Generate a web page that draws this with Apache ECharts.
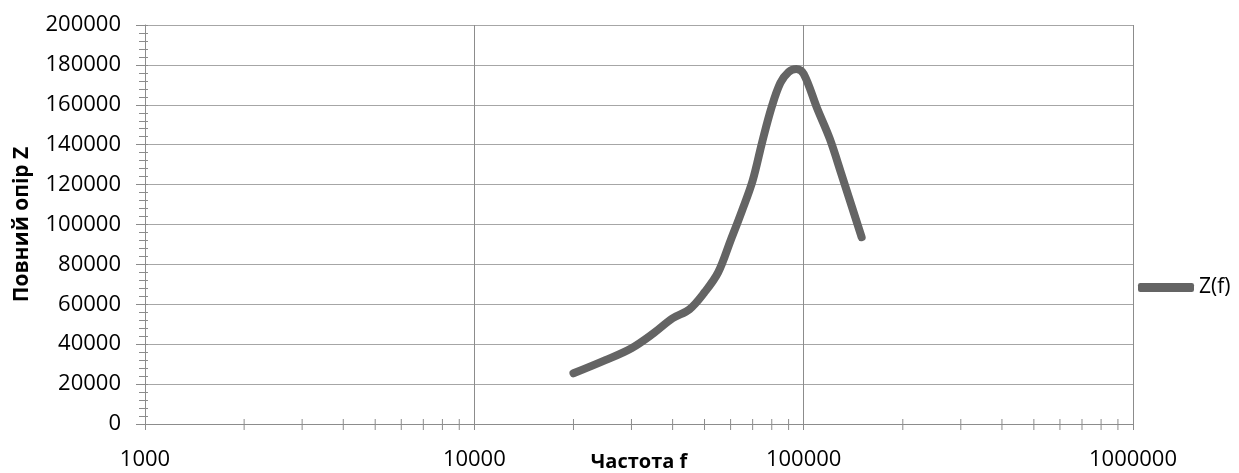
<!DOCTYPE html>
<html>
<head>
<meta charset="utf-8">
<script src="https://cdn.jsdelivr.net/npm/echarts@6/dist/echarts.min.js"></script>
<style>html,body{margin:0;padding:0;background:#fff}#c{width:1239px;height:473px}</style>
</head>
<body>
<div id="c"></div>
<script>
const frequencies = [20000, 25000, 30000, 35000, 40000, 45000, 50000, 55000, 60000, 65000, 70000, 75000, 80000, 85000, 90000, 95000, 100000, 110000, 120000, 130000, 150000];
const impedance = [25400, 32000, 38000, 45500, 53000, 57500, 66000, 76000, 92000, 107000, 122000, 142000, 159000, 171000, 176500, 178000, 175500, 158000, 143000, 125600, 93600];
const seriesName = 'Z(f)';
const xAxisTitle = 'Частота f';
const yAxisTitle = 'Повний опір Z';
const xMinorTicks = [2000,3000,4000,5000,6000,7000,8000,9000,20000,30000,40000,50000,60000,70000,80000,90000,200000,300000,400000,500000,600000,700000,800000,900000];

const font = 'Open Sans';
const chart = echarts.init(document.getElementById('c'));
const yBase = {
  type: 'value', min: 0, max: 200000, interval: 20000, gridIndex: 0
};
chart.setOption({
  animation: false,
  grid: { left: 145, right: 106, top: 25, bottom: 49, containLabel: false, outerBoundsMode: 'none' },
  legend: {
    data: [seriesName], left: 1133, top: 272, icon: 'roundRect',
    itemWidth: 56, itemHeight: 9, itemGap: 4,
    textStyle: { fontFamily: font, fontSize: 21, color: '#000' }
  },
  xAxis: [{
    type: 'log', logBase: 10, min: 1000, max: 1000000,
    name: xAxisTitle, nameLocation: 'middle', nameGap: 28, nameMoveOverlap: false,
    nameTextStyle: { fontFamily: font, fontSize: 20, fontWeight: 'bold', color: '#000', verticalAlign: 'top' },
    axisLine: { lineStyle: { color: '#8c8c8c', width: 1 } },
    axisTick: { show: true, length: 6, lineStyle: { color: '#8c8c8c' } },
    axisLabel: { fontFamily: font, fontSize: 22, color: '#000', margin: 25, formatter: v => String(Math.round(v)) },
    splitLine: { show: true, lineStyle: { color: '#8c8c8c', width: 1 } }
  }],
  yAxis: [Object.assign({}, yBase, {
    name: yAxisTitle, nameLocation: 'middle', nameGap: 112, nameMoveOverlap: false,
    nameTextStyle: { fontFamily: font, fontSize: 21, fontWeight: 'bold', color: '#000' },
    axisLine: { show: true, lineStyle: { color: '#8c8c8c', width: 1 } },
    axisTick: { show: true, length: 9, lineStyle: { color: '#8c8c8c' } },
    minorTick: { show: true, splitNumber: 5, length: 6, lineStyle: { color: '#8c8c8c' } },
    axisLabel: { fontFamily: font, fontSize: 22, color: '#000', margin: 24, formatter: v => String(v) },
    splitLine: { show: true, lineStyle: { color: '#a6a6a6', width: 1 } }
  }), Object.assign({}, yBase, {
    position: 'left', offset: 0,
    axisLine: { show: false },
    axisTick: { show: true, inside: true, length: 3, lineStyle: { color: '#8c8c8c' } },
    minorTick: { show: true, splitNumber: 5, length: 3, lineStyle: { color: '#8c8c8c' } },
    axisLabel: { show: false },
    splitLine: { show: false }
  })],
  series: [{
    name: seriesName, type: 'line', smooth: 0.35, showSymbol: false, symbol: 'none',
    data: frequencies.map((f, i) => [f, impedance[i]]),
    lineStyle: { color: '#646464', width: 8, cap: 'round', join: 'round' },
    itemStyle: { color: '#646464' }, z: 5
  }, {
    type: 'custom', name: 'minorTicks', silent: true, clip: false,
    data: xMinorTicks.map(f => [f, 0]),
    renderItem: function (params, api) {
      const p = api.coord([api.value(0), 0]);
      return { type: 'line', shape: { x1: p[0], y1: p[1] - 5, x2: p[0], y2: p[1] + 6 },
        style: { stroke: '#8c8c8c', lineWidth: 1 } };
    }
  }]
});
</script>
</body>
</html>
